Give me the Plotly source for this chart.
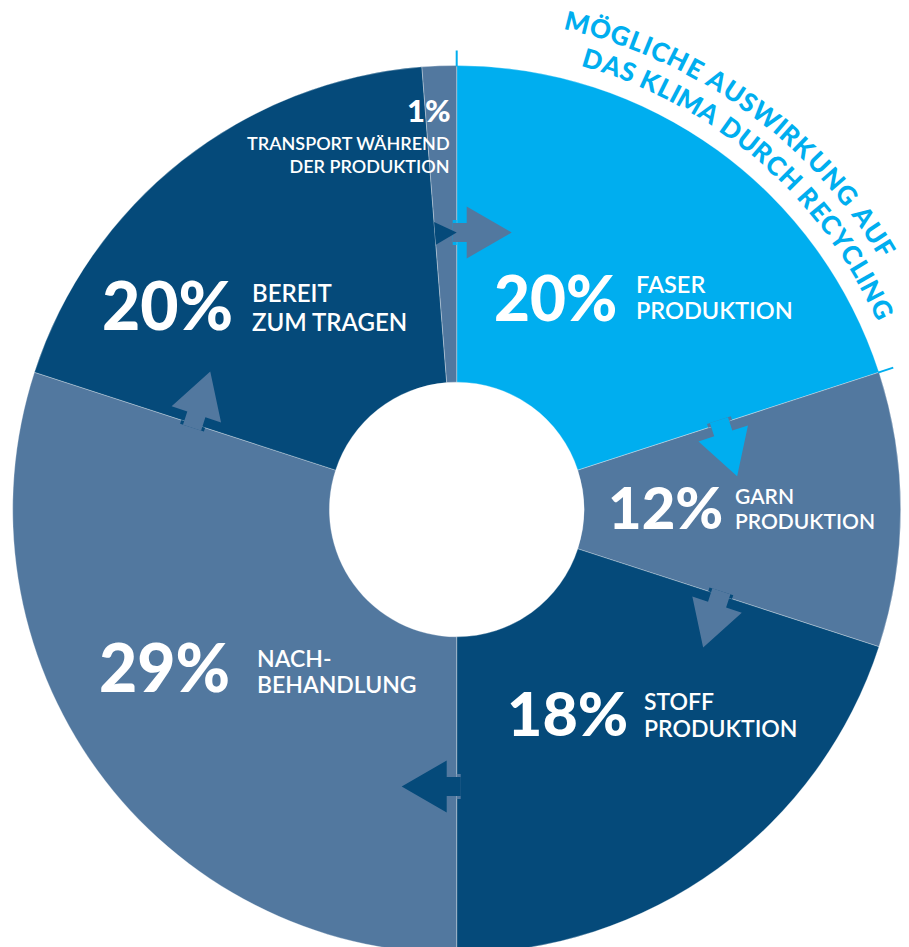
import math
import plotly.graph_objects as go

# ---------------- data ----------------
stages = ["Faser Produktion", "Garn Produktion", "Stoff Produktion",
          "Nachbehandlung", "Bereit zum Tragen", "Transport während der Produktion"]
slice_share = [20, 10, 20, 30, 18.75, 1.25]          # angular share as drawn
percent_labels = ["20%", "12%", "18%", "29%", "20%", "1%"]
label_line1 = ["FASER", "GARN", "STOFF", "NACH-", "BEREIT", "TRANSPORT WÄHREND"]
label_line2 = ["PRODUKTION", "PRODUKTION", "PRODUKTION", "BEHANDLUNG", "ZUM TRAGEN", "DER PRODUKTION"]
arc_title = ["MÖGLICHE AUSWIRKUNG AUF", "DAS KLIMA DURCH RECYCLING"]

# ---------------- style ----------------
LB, SB, NV = "#00AEEF", "#52789F", "#054A7A"
slice_colors = [LB, SB, NV, SB, NV, SB]
W, H = 909, 960
CX, CY, R = 456.7, 509.5, 444.0
HOLE_R = 127.3
ARROW_R = 277.0
FONT = "Lato"
PAD = 3  # annotation inner padding compensation

# label placement: (big_x, big_anchor, big_y, big_size, small_x, small_anchor, y1, y2, small_size, joined)
label_pos = [
    (495, "left", 296.5, 62, 637, "left", 284.0, 310.0, 23.5, False),
    (722, "right", 507.0, 58, 736, "left", 495.5, 520.5, 21, False),
    (508, "left", 712.5, 61, 645, "left", 700.5, 727.5, 23, False),
    (100, "left", 666.0, 66, 258, "left", 657.5, 683.5, 23, False),
    (103, "left", 304.5, 66, 253, "left", 292.0, 321.0, 24, False),
    (450, "right", 110.0, 31, 449, "right", 142.5, 165.5, 18, True),
]


def P(x, y):
    return x / W, 1 - y / H


def polar(theta, r):
    t = math.radians(theta)
    return CX + r * math.sin(t), CY - r * math.cos(t)


def path_of(pts):
    s = ""
    for i, (x, y) in enumerate(pts):
        px, py = P(x, y)
        s += ("M" if i == 0 else "L") + f"{px:.5f},{py:.5f} "
    return s + "Z"


fig = go.Figure()
fig.add_trace(go.Pie(
    labels=stages, values=slice_share, sort=False, direction="clockwise", rotation=0,
    hole=HOLE_R / R, textinfo="none", hoverinfo="label",
    marker=dict(colors=slice_colors, line=dict(color="rgba(255,255,255,0.3)", width=1)),
    domain=dict(x=[(CX - R) / W, (CX + R) / W], y=[(H - CY - R) / H, (H - CY + R) / H]),
    showlegend=False,
))

shapes = []
mini = []
total = sum(slice_share)
cum = []
acc = 0
for v in slice_share:
    acc += v
    cum.append(acc / total * 360.0)

n = len(slice_share)
for i in range(n):
    theta = cum[i] % 360
    src = slice_colors[i]
    dst = slice_colors[(i + 1) % n]
    nxt = slice_share[(i + 1) % n]
    th = math.radians(theta)
    tx, ty = math.cos(th), math.sin(th)
    nx, ny = math.sin(th), -math.cos(th)
    bx, by = polar(theta, ARROW_R)

    def pt(a, b, bx=bx, by=by, tx=tx, ty=ty, nx=nx, ny=ny):
        return bx + a * tx + b * nx, by + a * ty + b * ny

    if nxt / total * 360 < 8:
        tip_th = cum[(i + 1) % n] % 360
        tipx, tipy = polar(tip_th, ARROW_R)
        tri = [pt(0, -11.5), (tipx, tipy), pt(0, 11.5)]
        mini.append(dict(type="path", path=path_of(tri), fillcolor=src,
                         line=dict(width=0), xref="paper", yref="paper", layer="above"))
        continue
    notch = [pt(-4, -12.5), pt(0, -12.5), pt(0, 12.5), pt(-4, 12.5)]
    arrow = [pt(-4, -9.5), pt(10, -9.5), pt(10, -26), pt(55, 0), pt(10, 26), pt(10, 9.5), pt(-4, 9.5)]
    shapes.append(dict(type="path", path=path_of(notch), fillcolor=dst,
                       line=dict(width=0), xref="paper", yref="paper", layer="above"))
    shapes.append(dict(type="path", path=path_of(arrow), fillcolor=src,
                       line=dict(width=0), xref="paper", yref="paper", layer="above"))
shapes += mini

# thin marker lines for the Faser slice extent
for theta in (0.0, cum[0]):
    x0, y0 = P(*polar(theta, R - 1))
    x1, y1 = P(*polar(theta, R + 15))
    shapes.append(dict(type="line", x0=x0, y0=y0, x1=x1, y1=y1, xref="paper", yref="paper",
                       line=dict(color=LB, width=2), layer="above"))


def ax(x, anchor):
    return x - PAD if anchor == "left" else x + PAD


annotations = []
for i in range(n):
    bx_, banc, by_, bs, sx, sanc, y1, y2, ss, joined = label_pos[i]
    px, py = P(ax(bx_, banc), by_)
    annotations.append(dict(x=px, y=py, xref="paper", yref="paper", xanchor=banc, yanchor="middle",
                            text=percent_labels[i], showarrow=False,
                            font=dict(family=FONT, size=bs, color="white", weight=900)))
    if joined:
        px, py = P(ax(sx, sanc), (y1 + y2) / 2)
        annotations.append(dict(x=px, y=py, xref="paper", yref="paper", xanchor=sanc, yanchor="middle",
                                text=label_line1[i] + "<br>" + label_line2[i], align=sanc,
                                showarrow=False,
                                font=dict(family=FONT, size=ss, color="white", weight=600)))
        continue
    for yy, txt in ((y1, label_line1[i]), (y2, label_line2[i])):
        px, py = P(ax(sx, sanc), yy)
        annotations.append(dict(x=px, y=py, xref="paper", yref="paper", xanchor=sanc, yanchor="middle",
                                text=txt, showarrow=False,
                                font=dict(family=FONT, size=ss, color="white", weight=600)))

# curved title text
cw = {"A": .70, "C": .68, "D": .76, "E": .57, "F": .55, "G": .74, "H": .77, "I": .30, "K": .70,
      "L": .52, "M": .90, "N": .77, "O": .80, "Ö": .80, "R": .66, "S": .56, "U": .75, "W": 1.02,
      "Y": .66, " ": .28}
arc_geom = [(502.0, 13.9, 58.6), (470.5, 16.8, 64.8)]
for line, (rad, a0, a1) in zip(arc_title, arc_geom):
    widths = [cw.get(c, .65) for c in line]
    centers = []
    acc = 0
    for w in widths:
        centers.append(acc + w / 2)
        acc += w
    c0, c1 = centers[0], centers[-1]
    for ch, c in zip(line, centers):
        if ch == " ":
            continue
        th = a0 + (c - c0) / (c1 - c0) * (a1 - a0)
        px, py = P(*polar(th, rad))
        annotations.append(dict(x=px, y=py, xref="paper", yref="paper", xanchor="center",
                                yanchor="middle", text=ch, showarrow=False, textangle=th,
                                font=dict(family=FONT, size=26, color=LB, weight=900)))

fig.update_layout(
    width=W, height=H, margin=dict(l=0, r=0, t=0, b=0),
    paper_bgcolor="white", plot_bgcolor="white",
    shapes=shapes, annotations=annotations, showlegend=False,
)

fig.write_html("out.html", config={"displayModeBar": False},
               post_script="document.documentElement.style.overflow='hidden';document.body.style.overflow='hidden';")
